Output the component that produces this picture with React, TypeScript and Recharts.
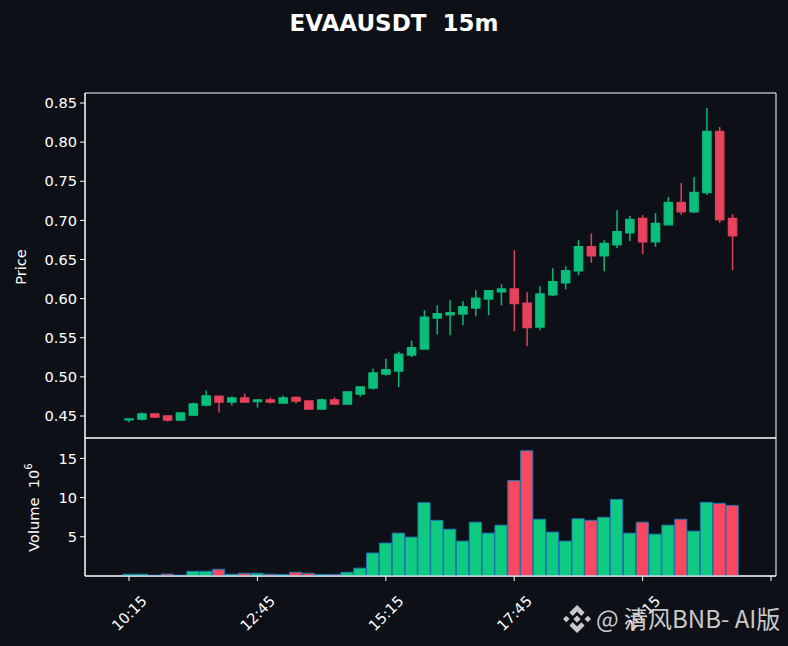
import React from 'react';
import { ComposedChart, Bar, XAxis, YAxis, ReferenceArea, Cell } from 'recharts';

const index = Array.from({ length: 48 }, (_, i) => i);
const opens = [.4451,.4459,.4528,.4503,.4446,.4510,.4638,.4754,.4677,.4733,.4682,.4707,.4664,.4737,.4695,.4587,.4707,.4651,.4779,.4856,.5035,.5074,.5278,.5355,.5752,.5791,.5803,.5880,.5995,.6085,.6124,.5944,.5637,.6047,.6200,.6354,.6666,.6546,.6687,.6840,.7025,.6725,.6943,.7230,.7109,.7353,.8139,.7025];
const closes = [.4464,.4528,.4485,.4446,.4541,.4656,.4759,.4677,.4733,.4677,.4707,.4677,.4733,.4690,.4587,.4707,.4651,.4810,.4874,.5053,.5092,.5291,.5373,.5765,.5809,.5821,.5898,.6008,.6103,.6124,.5937,.5629,.6060,.6218,.6359,.6666,.6546,.6705,.6858,.7012,.6725,.6961,.7230,.7109,.7358,.8139,.7007,.6802];
const highs = [.4466,.4545,.4532,.4507,.4541,.4673,.4827,.4754,.4750,.4788,.4707,.4737,.4762,.4750,.4695,.4724,.4737,.4810,.4874,.5108,.5232,.5322,.5463,.5851,.5915,.5979,.5966,.6107,.6103,.6184,.6619,.6081,.6158,.6389,.6414,.6747,.6833,.6747,.7131,.7055,.7067,.7093,.7298,.7477,.7554,.8437,.8194,.7080];
const lows = [.4421,.4442,.4477,.4430,.4446,.4510,.4625,.4545,.4634,.4677,.4609,.4660,.4664,.4660,.4587,.4580,.4638,.4651,.4750,.4839,.5019,.4869,.5253,.5355,.5544,.5531,.5659,.5774,.5787,.5915,.5582,.5390,.5595,.6034,.6120,.6299,.6457,.6350,.6648,.6738,.6568,.6661,.6943,.7071,.7093,.7323,.6969,.6363];
const volumes = [.23,.23,.1,.25,.1,.6,.6,.86,.23,.35,.35,.23,.2,.48,.35,.2,.2,.48,1.0,2.93,4.2,5.47,4.96,9.35,7.1,5.97,4.45,6.86,5.47,6.48,12.17,15.97,7.24,5.6,4.45,7.3,7.1,7.49,9.77,5.47,6.86,5.34,6.48,7.24,5.72,9.39,9.27,9.0];

const priceTicks = [0.45, 0.5, 0.55, 0.6, 0.65, 0.7, 0.75, 0.8, 0.85];
const volumeTicks = [5, 10, 15];
const timeTicks = [0, 10, 20, 30, 40, 50];
const timeLabels = ['10:15', '12:45', '15:15', '17:45', '20:15', ''];

const table = index.map((i) => ({
  i,
  open: opens[i],
  close: closes[i],
  high: highs[i],
  low: lows[i],
  volume: volumes[i],
  up: closes[i] >= opens[i],
}));

const BG = '#0d1117';
const WHITE = '#ffffff';
const UP = '#0ecb81';
const DOWN = '#f6465d';
const FONT = '"DejaVu Sans", sans-serif';
const X_DOMAIN: [number, number] = [-3.43, 50.39];
const P_DOMAIN: [number, number] = [0.4219, 0.8628];
const V_DOMAIN: [number, number] = [0, 17.6];

const Candle = (props: any) => {
  const { x, y, width, height, payload } = props;
  const c = payload.up ? '#0ab97a' : '#e04059';
  const cx = x + width / 2;
  const range = payload.high - payload.low || 1;
  const py = (v: number) => y + ((payload.high - v) / range) * height;
  const top = py(Math.max(payload.open, payload.close));
  const bot = py(Math.min(payload.open, payload.close));
  return (
    <g>
      <line x1={cx} x2={cx} y1={y} y2={y + height} stroke={c} strokeWidth={1.5} />
      <rect x={cx - 4.2} y={top} width={8.4} height={Math.max(bot - top, 0.5)} fill={payload.up ? '#0abf7c' : '#e8435c'} stroke={c} strokeWidth={1.2} strokeLinejoin="round" />
    </g>
  );
};

const TimeTick = (props: any) => {
  const { x, y, index: k } = props;
  const label = timeLabels[k];
  if (!label) return <g />;
  const cx = x;
  const cy = y + 30;
  return (
    <text x={cx} y={cy} transform={`rotate(-45 ${cx} ${cy})`} textAnchor="middle" dominantBaseline="central" fill={WHITE} fontSize={14.6} fontFamily={FONT}>
      {label}
    </text>
  );
};

const VolumeLabel = () => (
  <text transform="translate(39,507.5) rotate(-90)" textAnchor="middle" fill={WHITE} fontSize={14.6} fontFamily={FONT} xmlSpace="preserve">
    {'Volume  10'}
    <tspan dy={-7} fontSize={10.2}>6</tspan>
  </text>
);

const PriceLabel = () => (
  <text transform="translate(26,267) rotate(-90)" textAnchor="middle" fill={WHITE} fontSize={14.6} fontFamily={FONT}>
    Price
  </text>
);

const tickStyle = { fill: WHITE, fontSize: 14.6, fontFamily: FONT };
const line = { stroke: WHITE, strokeWidth: 1 };

export default function App() {
  return (
    <div style={{ position: 'absolute', left: 0, top: 0, width: 788, height: 646, background: BG, overflow: 'hidden' }}>
      <div style={{ position: 'absolute', left: 0, right: 0, top: 8, textAlign: 'center', color: WHITE, fontFamily: FONT, fontWeight: 700, fontSize: 23, whiteSpace: 'pre', paddingLeft: 0, lineHeight: '30px' }}>
        {'EVAAUSDT  15m'}
      </div>

      <div style={{ position: 'absolute', left: 0, top: 0 }}>
        <ComposedChart width={788} height={646} data={table} margin={{ top: 93, right: 12, bottom: 208, left: 0 }} barGap={0}>
          <XAxis dataKey="i" type="number" domain={X_DOMAIN} ticks={timeTicks} allowDataOverflow hide />
          <YAxis type="number" domain={P_DOMAIN} ticks={priceTicks} width={85} allowDataOverflow interval={0} tick={tickStyle} tickFormatter={(v: number) => v.toFixed(2)} axisLine={line} tickLine={line} tickSize={5} tickMargin={3} />
          <ReferenceArea x1={X_DOMAIN[0]} x2={X_DOMAIN[1]} y1={P_DOMAIN[0]} y2={P_DOMAIN[1]} fill="none" stroke={WHITE} strokeWidth={1} ifOverflow="visible" />
          <Bar dataKey={(d: any) => [d.low, d.high]} barSize={9} shape={Candle} isAnimationActive={false} />
          <PriceLabel />
        </ComposedChart>
      </div>

      <div style={{ position: 'absolute', left: 0, top: 0 }}>
        <ComposedChart width={788} height={646} data={table} margin={{ top: 438, right: 12, bottom: 0, left: 0 }} barGap={0}>
          <XAxis dataKey="i" type="number" domain={X_DOMAIN} ticks={timeTicks} allowDataOverflow interval={0} height={70} tick={<TimeTick />} axisLine={line} tickLine={line} tickSize={5} />
          <YAxis type="number" domain={V_DOMAIN} ticks={volumeTicks} width={85} allowDataOverflow interval={0} tick={tickStyle} axisLine={line} tickLine={line} tickSize={5} tickMargin={3} />
          <ReferenceArea x1={X_DOMAIN[0]} x2={X_DOMAIN[1]} y1={V_DOMAIN[0]} y2={V_DOMAIN[1]} fill="none" stroke={WHITE} strokeWidth={1} ifOverflow="visible" />
          <Bar dataKey="volume" barSize={12.2} stroke="#1f77b4" strokeWidth={1} isAnimationActive={false}>
            {table.map((d) => (
              <Cell key={d.i} fill={d.up ? '#0fcb81' : '#fa4860'} />
            ))}
          </Bar>
          <VolumeLabel />
        </ComposedChart>
      </div>

      <svg width={788} height={646} style={{ position: 'absolute', left: 0, top: 0, pointerEvents: 'none' }}>
        <g transform="translate(563,605) scale(1.17)" fill="#c9c9c9">
          <polygon points="12,0 18.5,6.5 15.7,9.3 12,5.6 8.3,9.3 5.5,6.5" />
          <polygon points="12,24 18.5,17.5 15.7,14.7 12,18.4 8.3,14.7 5.5,17.5" />
          <polygon points="0,12 2.8,9.2 5.6,12 2.8,14.8" />
          <polygon points="24,12 21.2,9.2 18.4,12 21.2,14.8" />
          <polygon points="12,8.9 15.1,12 12,15.1 8.9,12" />
        </g>
        <text x={596} y={628} fill="#c9c9c9" fontSize={24} fontFamily={'"Noto Sans CJK SC", "Noto Sans", sans-serif'} xmlSpace="preserve">
          {'@ 清风BNB- AI版'}
        </text>
      </svg>
    </div>
  );
}
